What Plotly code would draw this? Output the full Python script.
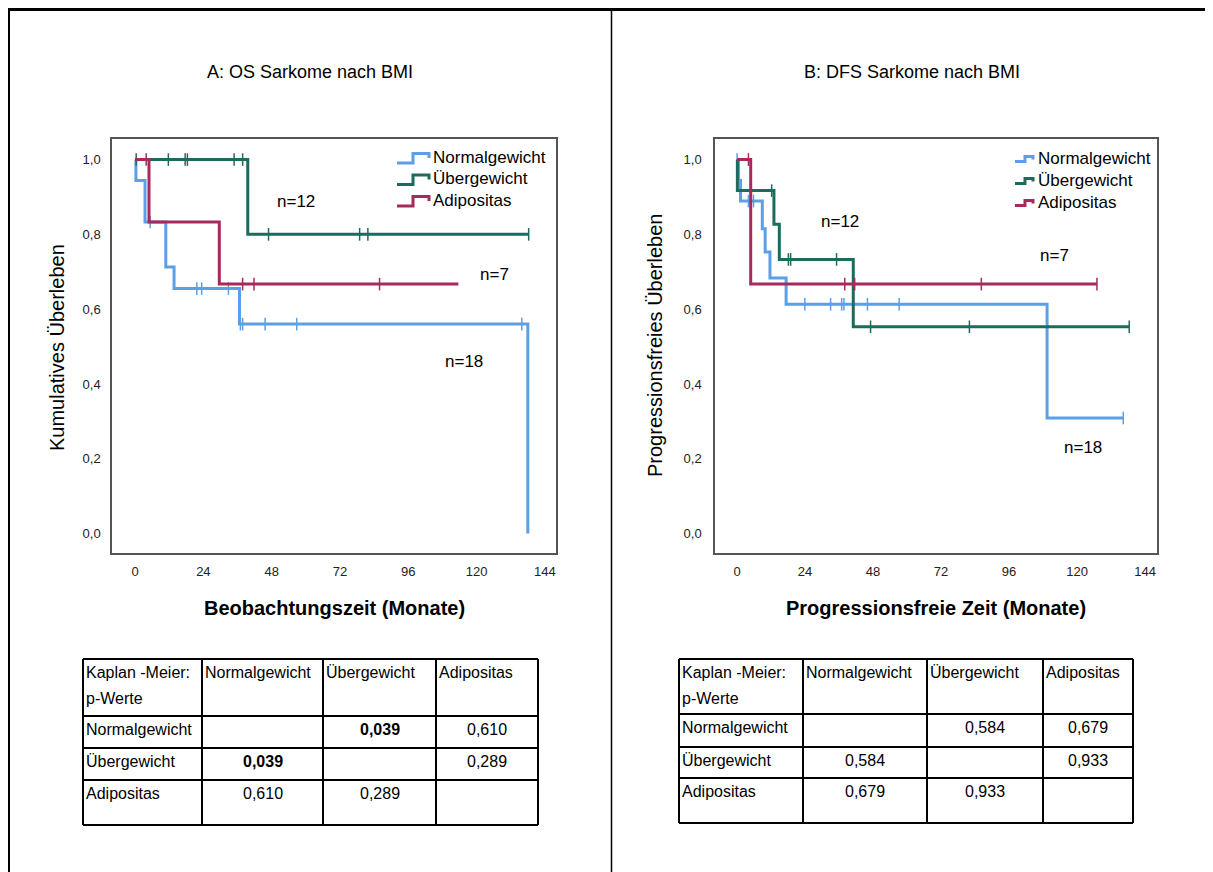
import plotly.graph_objects as go

# ---------------- data ----------------
groups = ["Normalgewicht", "Übergewicht", "Adipositas"]
colors = ["#5B9FE6", "#1D6B5D", "#A8295C"]

# OS (panel A): event times / survival after each step, end of follow-up, censored times
os_normal_t = [0, 0.3, 3.5, 10.8, 13.7, 36.7, 138.0]
os_normal_s = [1.0, 0.944, 0.833, 0.713, 0.655, 0.560, 0.0]
os_normal_end = 138.0
os_normal_cens = [5.3, 21.7, 23.4, 32.8, 37.0, 37.8, 45.7, 56.8, 135.9]

os_over_t = [0, 39.6]
os_over_s = [1.0, 0.80]
os_over_end = 138.3
os_over_cens = [0.4, 11.7, 17.6, 18.4, 34.8, 37.8, 46.9, 78.9, 81.8, 138.3]

os_adip_t = [0, 4.9, 29.6]
os_adip_s = [1.0, 0.833, 0.667]
os_adip_end = 113.6
os_adip_cens = [3.9, 37.8, 41.8, 85.9]

# DFS (panel B)
dfs_normal_t = [0, 0.5, 1.2, 8.9, 9.9, 11.6, 17.3, 109.4]
dfs_normal_s = [1.0, 0.944, 0.889, 0.815, 0.753, 0.683, 0.613, 0.309]
dfs_normal_end = 136.3
dfs_normal_cens = [0.0, 4.0, 5.8, 23.9, 33.0, 36.9, 37.7, 46.0, 57.2, 136.3]

dfs_over_t = [0, 0.1, 13.0, 14.9, 41.0]
dfs_over_s = [1.0, 0.917, 0.827, 0.733, 0.553]
dfs_over_end = 138.4
dfs_over_cens = [12.2, 18.1, 18.9, 35.1, 47.1, 82.0, 138.4]

dfs_adip_t = [0, 4.8]
dfs_adip_s = [1.0, 0.667]
dfs_adip_end = 127.0
dfs_adip_cens = [4.0, 38.0, 41.5, 86.2, 127.0]

x_ticks = [0, 24, 48, 72, 96, 120, 144]
y_ticks = [0.0, 0.2, 0.4, 0.6, 0.8, 1.0]
y_ticktext = ["0,0", "0,2", "0,4", "0,6", "0,8", "1,0"]

table_cols = ["Normalgewicht", "Übergewicht", "Adipositas"]
os_p = [["", "0,039", "0,610"], ["0,039", "", "0,289"], ["0,610", "0,289", ""]]
dfs_p = [["", "0,584", "0,679"], ["0,584", "", "0,933"], ["0,679", "0,933", ""]]
os_bold = [[False, True, False], [True, False, False], [False, False, False]]

# ---------------- geometry helpers ----------------
W, H = 1205, 864
OX, OY = 8, 8
def px(X):
    return (X - OX) / W
def py(Y):
    return 1 - (Y - OY) / H

FONT = "Arial, Liberation Sans, sans-serif"

fig = go.Figure()

def surv_at(t_list, s_list, t):
    s = s_list[0]
    for ti, si in zip(t_list, s_list):
        if ti <= t:
            s = si
    return s

def add_km(t, s, end, cens, color, name, xa, ya):
    xs = list(t) + [end]
    ys = list(s) + [s[-1]]
    fig.add_trace(go.Scatter(x=xs, y=ys, mode="lines", line=dict(color=color, width=3, shape="hv"),
                             name=name, showlegend=False, xaxis=xa, yaxis=ya, hoverinfo="skip"))
    fig.add_trace(go.Scatter(x=cens, y=[surv_at(t, s, c) for c in cens], mode="markers",
                             marker=dict(symbol="line-ns", size=9, line=dict(color=color, width=1.5)),
                             showlegend=False, xaxis=xa, yaxis=ya, hoverinfo="skip"))

os_data = [(os_normal_t, os_normal_s, os_normal_end, os_normal_cens),
           (os_over_t, os_over_s, os_over_end, os_over_cens),
           (os_adip_t, os_adip_s, os_adip_end, os_adip_cens)]
dfs_data = [(dfs_normal_t, dfs_normal_s, dfs_normal_end, dfs_normal_cens),
            (dfs_over_t, dfs_over_s, dfs_over_end, dfs_over_cens),
            (dfs_adip_t, dfs_adip_s, dfs_adip_end, dfs_adip_cens)]

for (t, s, e, c), col, g in zip(os_data, colors, groups):
    add_km(t, s, e, c, col, g, "x", "y")
for (t, s, e, c), col, g in zip(dfs_data, colors, groups):
    add_km(t, s, e, c, col, g, "x2", "y2")

axis_common = dict(showgrid=False, zeroline=False, showline=True, mirror=True,
                   linecolor="#555555", linewidth=1.5, ticks="outside", tickcolor="rgba(0,0,0,0)",
                   tickfont=dict(family=FONT, size=13, color="#222222"))

fig.update_layout(
    width=W, height=H, margin=dict(l=0, r=0, t=0, b=0),
    paper_bgcolor="white", plot_bgcolor="white", showlegend=False,
    xaxis=dict(domain=[px(112), px(556)], range=[-8.1, 147.9], tickvals=x_ticks, ticklen=6,
               anchor="y", **axis_common),
    yaxis=dict(domain=[py(553), py(139)], range=[-0.052, 1.055], tickvals=y_ticks, ticktext=y_ticktext,
               ticklen=7, anchor="x", **axis_common),
    xaxis2=dict(domain=[px(715), px(1157)], range=[-7.8, 148.2], tickvals=x_ticks, ticklen=6,
                anchor="y2", **axis_common),
    yaxis2=dict(domain=[py(553), py(139)], range=[-0.052, 1.055], tickvals=y_ticks, ticktext=y_ticktext,
                ticklen=9, anchor="x2", **axis_common),
)

ann = []
shapes = []

def text(X, Y, s, size, xanchor="center", bold=False, angle=0, color="black"):
    if bold:
        s = "<b>" + s + "</b>"
    ann.append(dict(x=px(X), y=py(Y), xref="paper", yref="paper", text=s, showarrow=False,
                    xanchor=xanchor, yanchor="middle", textangle=angle,
                    font=dict(family=FONT, size=size, color=color)))

# outer frame
shapes.append(dict(type="line", xref="paper", yref="paper", x0=0, x1=1, y0=py(9.5), y1=py(9.5),
                   line=dict(color="black", width=3)))
shapes.append(dict(type="line", xref="paper", yref="paper", x0=px(9), x1=px(9), y0=0, y1=py(9),
                   line=dict(color="black", width=2)))
shapes.append(dict(type="line", xref="paper", yref="paper", x0=px(611.5), x1=px(611.5), y0=0, y1=py(9),
                   line=dict(color="black", width=1.5)))

# titles
text(310, 72, "A: OS Sarkome nach BMI", 18)
text(912, 72, "B: DFS Sarkome nach BMI", 18)
text(57, 348, "Kumulatives Überleben", 20, angle=-90)
text(655, 346, "Progressionsfreies Überleben", 20, angle=-90)
text(334, 608, "Beobachtungszeit (Monate)", 20, bold=True)
text(936, 608, "Progressionsfreie Zeit (Monate)", 20, bold=True)

# n labels
text(296, 202, "n=12", 17)
text(494, 274, "n=7", 17)
text(464, 361, "n=18", 17)
text(840, 222, "n=12", 17)
text(1054, 255, "n=7", 17)
text(1083, 447, "n=18", 17)

# legends (drawn)
def legend(rows_y, x0, xm, x1, up, down, tail, tx):
    for Y, col, g in zip(rows_y, colors, groups):
        path = "M {:.5f},{:.5f} L {:.5f},{:.5f} L {:.5f},{:.5f} L {:.5f},{:.5f} L {:.5f},{:.5f}".format(
            px(x0), py(Y + down), px(xm), py(Y + down), px(xm), py(Y - up), px(x1), py(Y - up),
            px(x1), py(Y + tail))
        shapes.append(dict(type="path", xref="paper", yref="paper", path=path,
                           line=dict(color=col, width=3)))
        text(tx, Y, g, 17, xanchor="left")

legend([157, 178.5, 200], 397, 413, 429, 3.5, 6, 1, 431)
legend([158.5, 180.5, 202.5], 1015, 1025, 1033, 2, 3, 1, 1036)

# tables
def table(cols_x, rows_y, vals, bold):
    for X in cols_x:
        shapes.append(dict(type="line", xref="paper", yref="paper", x0=px(X), x1=px(X),
                           y0=py(rows_y[0]), y1=py(rows_y[-1]), line=dict(color="black", width=2)))
    for Y in rows_y:
        shapes.append(dict(type="line", xref="paper", yref="paper", x0=px(cols_x[0]), x1=px(cols_x[-1]),
                           y0=py(Y), y1=py(Y), line=dict(color="black", width=2)))
    text(cols_x[0] + 1, rows_y[0] + 13, "Kaplan -Meier:", 16, xanchor="left")
    text(cols_x[0] + 1, rows_y[0] + 39, "p-Werte", 16, xanchor="left")
    for j, c in enumerate(table_cols):
        text(cols_x[j + 1] + 1, rows_y[0] + 13, c, 16, xanchor="left")
    for i, r in enumerate(table_cols):
        ty = rows_y[i + 1] + 13
        text(cols_x[0] + 1, ty, r, 16, xanchor="left")
        for j in range(3):
            v = vals[i][j]
            if v:
                cx = (cols_x[j + 1] + cols_x[j + 2]) / 2
                text(cx, ty, v, 16, bold=bold[i][j] if bold else False)

table([83, 202, 323, 436, 538], [659, 716, 748, 780, 825], os_p, os_bold)
table([679, 803, 927, 1043, 1133], [659, 714, 747, 778, 823], dfs_p, None)

fig.update_layout(annotations=ann, shapes=shapes)
fig.write_html("out.html")
